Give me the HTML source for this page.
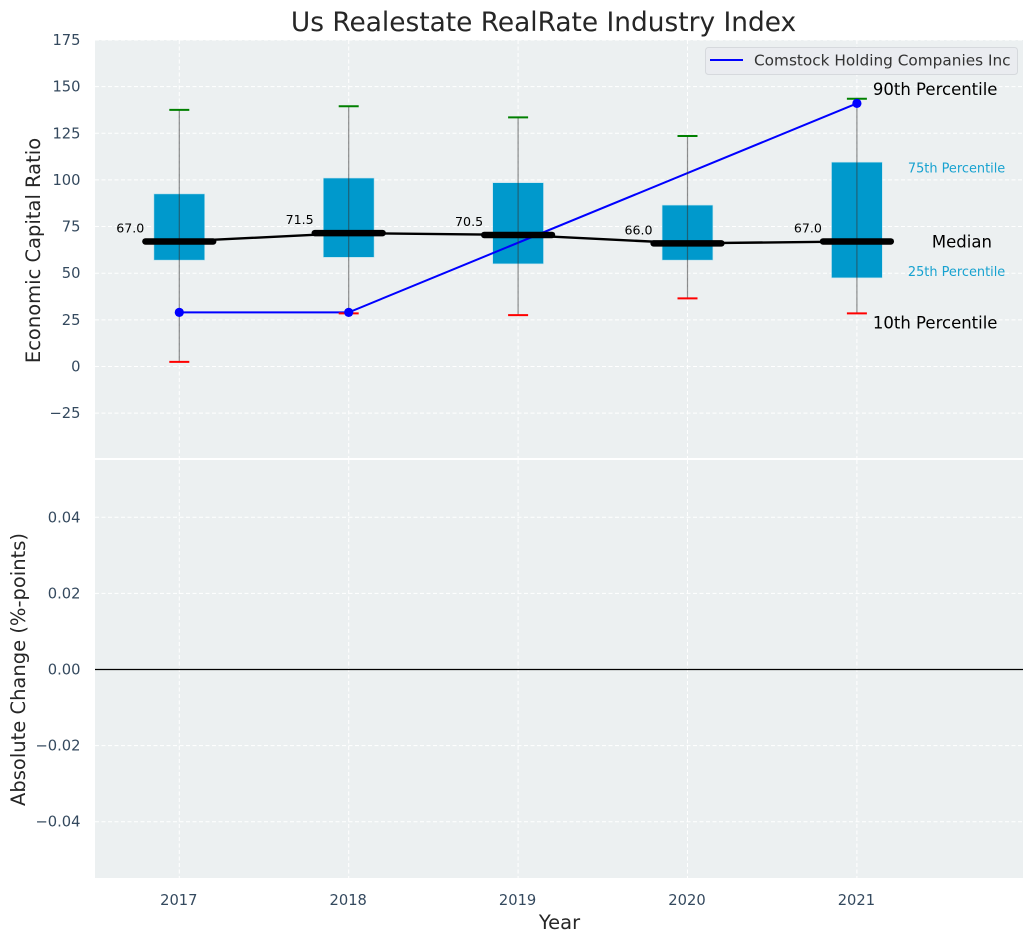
<!DOCTYPE html>
<html>
<head>
<meta charset="utf-8">
<title>Us Realestate RealRate Industry Index</title>
<style>
html,body{margin:0;padding:0;background:#fff;}
svg{display:block;font-family:"DejaVu Sans","Liberation Sans",sans-serif;}
</style>
</head>
<body>
<svg id="chart" width="1034" height="942" viewBox="0 0 1034 942" xmlns="http://www.w3.org/2000/svg">
  <text x="543.5" y="31" text-anchor="middle" font-size="26.4" fill="#262626">Us Realestate RealRate Industry Index</text>
  <rect x="95" y="40" width="928" height="418" fill="#ecf0f1"/>
  <rect x="95" y="460" width="928" height="418" fill="#ecf0f1"/>
  <g id="grid"></g>
  <g id="ticks"></g>
  <g id="marks"></g>
  <g id="notes"></g>
  <text transform="translate(40,250.5) rotate(-90)" text-anchor="middle" font-size="19.5" fill="#262626">Economic Capital Ratio</text>
  <text transform="translate(25,669.5) rotate(-90)" text-anchor="middle" font-size="19.5" fill="#262626">Absolute Change (%-points)</text>
  <text x="559.5" y="929" text-anchor="middle" font-size="19.5" fill="#262626">Year</text>
  <g>
    <rect x="705.5" y="47.5" width="312" height="27" rx="3" fill="#eaecf0" stroke="#d6d9dd" stroke-width="1"/>
    <line x1="710" y1="60" x2="743" y2="60" stroke="#0000ff" stroke-width="2"/>
    <text x="754" y="65.5" font-size="15.3" fill="#333">Comstock Holding Companies Inc</text>
  </g>
</svg>
<script>
var years = [2017, 2018, 2019, 2020, 2021];
var p90 = [137.5, 139.5, 133.5, 123.5, 143.5];
var q75 = [92.5, 101, 98.5, 86.5, 109.5];
var median = [67, 71.5, 70.5, 66, 67];
var q25 = [57, 58.5, 55, 57, 47.5];
var p10 = [2.5, 28.5, 27.5, 36.5, 28.5];
var company = [29, 29, null, null, 141];
var topTicks = [175, 150, 125, 100, 75, 50, 25, 0, -25];
var bottomTicks = [0.04, 0.02, 0, -0.02, -0.04];

function X(year) { return 179.3 + (year - 2017) * 169.4; }
function Y(v) { return 366.5 - v * 1.866; }
function Y2(v) { return 669.5 - v * 3805; }

var NS = 'http://www.w3.org/2000/svg';
function make(parent, tag, attrs, text) {
  var el = document.createElementNS(NS, tag);
  for (var k in attrs) { el.setAttribute(k, attrs[k]); }
  if (text !== undefined) { el.textContent = text; }
  parent.appendChild(el);
  return el;
}
function fmt(v) { return String(v).replace('-', '\u2212'); }

var grid = document.getElementById('grid');
var ticks = document.getElementById('ticks');
var marks = document.getElementById('marks');
var notes = document.getElementById('notes');
var gridStyle = { stroke: '#ffffff', 'stroke-width': 1, 'stroke-dasharray': '4 2.5', fill: 'none' };

topTicks.forEach(function (t) {
  var g = make(grid, 'line', Object.assign({ x1: 95, x2: 1023, y1: Y(t), y2: Y(t) }, gridStyle));
  
  
  var l = make(ticks, 'text', { x: 80.5, y: Y(t) + 5, 'text-anchor': 'end', 'font-size': 14.7, fill: '#34495e' }, fmt(t));
  
  
});

bottomTicks.forEach(function (t) {
  var g = make(grid, 'line', Object.assign({ x1: 95, x2: 1023, y1: Y2(t), y2: Y2(t) }, gridStyle));
  
  
  var l = make(ticks, 'text', { x: 80.5, y: Y2(t) + 5, 'text-anchor': 'end', 'font-size': 14.7, fill: '#34495e' }, fmt(t.toFixed(2)));
  
  
});

years.forEach(function (yr) {
  var a = make(grid, 'line', Object.assign({ x1: X(yr), x2: X(yr), y1: 40, y2: 458 }, gridStyle));
  
  
  var b = make(grid, 'line', Object.assign({ x1: X(yr), x2: X(yr), y1: 460, y2: 878 }, gridStyle));
  
  
  var l = make(ticks, 'text', { x: X(yr) - 0.5, y: 905, 'text-anchor': 'middle', 'font-size': 14.7, fill: '#34495e' }, yr);
  
  
});

var zero = make(grid, 'line', { x1: 95, x2: 1023, y1: Y2(0), y2: Y2(0), stroke: '#000', 'stroke-width': 1.3 });



years.forEach(function (yr, i) {
  var box = make(marks, 'rect', { x: X(yr) - 25.4, y: Y(q75[i]), width: 50.8, height: Y(q25[i]) - Y(q75[i]), fill: '#0099cc', stroke: '#bfe3ee', 'stroke-width': 0.6 });
  
  
});

var medianLine = make(marks, 'polyline', {
  points: years.map(function (yr, i) { return X(yr) + ',' + Y(median[i]); }).join(' '),
  fill: 'none', stroke: '#000', 'stroke-width': 2.4
});



var companyPoints = [];
years.forEach(function (yr, i) {
  if (company[i] !== null) { companyPoints.push([X(yr), Y(company[i])]); }
});
var companyLine = make(marks, 'polyline', {
  points: companyPoints.map(function (p) { return p[0] + ',' + p[1]; }).join(' '),
  fill: 'none', stroke: '#0000ff', 'stroke-width': 2
});



years.forEach(function (yr, i) {
  var cx = X(yr);
  var whisker = make(marks, 'line', { x1: cx, x2: cx, y1: Y(p90[i]), y2: Y(p10[i]), stroke: '#333333', 'stroke-opacity': 0.55, 'stroke-width': 1.2 });
  
  
  var top = make(marks, 'line', { x1: cx - 10, x2: cx + 10, y1: Y(p90[i]), y2: Y(p90[i]), stroke: '#008000', 'stroke-width': 2 });
  
  
  var bottom = make(marks, 'line', { x1: cx - 10, x2: cx + 10, y1: Y(p10[i]), y2: Y(p10[i]), stroke: '#ff0000', 'stroke-width': 2 });
  
  
  var med = make(marks, 'line', { x1: cx - 33.9, x2: cx + 33.9, y1: Y(median[i]), y2: Y(median[i]), stroke: '#000', 'stroke-width': 6.5, 'stroke-linecap': 'round' });
  
  
  var label = make(marks, 'text', { x: cx - 35, y: Y(median[i]) - 9, 'text-anchor': 'end', 'font-size': 12.6, fill: '#000' }, median[i].toFixed(1));
  
  
  if (company[i] !== null) {
    var dot = make(marks, 'circle', { cx: cx, cy: Y(company[i]), r: 4.6, fill: '#0000ff' });
    
    
  }
});

var last = years.length - 1;
var lx = X(years[last]);
var n90 = make(notes, 'text', { x: lx + 16, y: Y(p90[last]) - 3.5, 'font-size': 16.5, fill: '#000' }, '90th Percentile');


var n75 = make(notes, 'text', { x: lx + 51, y: Y(q75[last]) + 10.5, 'font-size': 12.9, fill: '#0099cc', 'fill-opacity': 0.9 }, '75th Percentile');


var nMed = make(notes, 'text', { x: lx + 75, y: Y(median[last]) + 6, 'font-size': 16.5, fill: '#000' }, 'Median');


var n25 = make(notes, 'text', { x: lx + 51, y: Y(q25[last]) - 2, 'font-size': 12.9, fill: '#0099cc', 'fill-opacity': 0.9 }, '25th Percentile');


var n10 = make(notes, 'text', { x: lx + 16, y: Y(p10[last]) + 15, 'font-size': 16.5, fill: '#000' }, '10th Percentile');


</script>
</body>
</html>
